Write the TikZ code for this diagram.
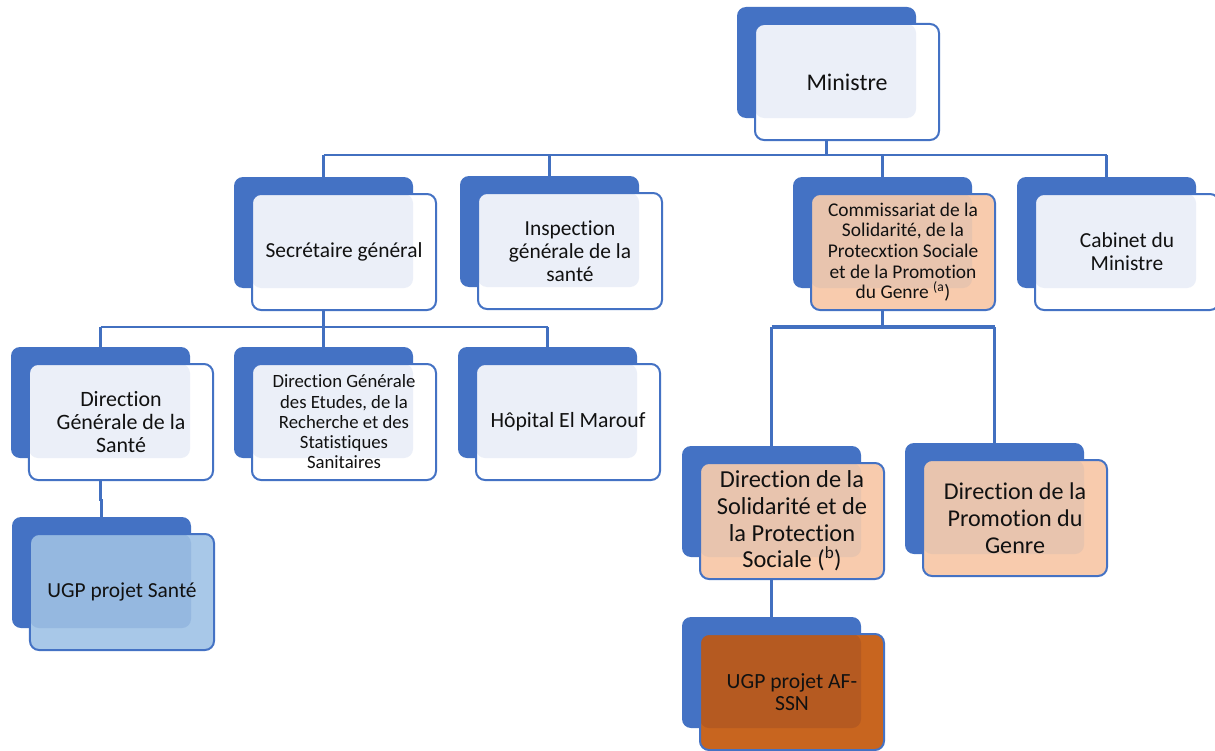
\documentclass[tikz,border=0pt]{standalone}
\usepackage{fontspec}
\setmainfont[Ligatures={NoCommon}]{Carlito}
\definecolor{backc}{HTML}{4472C4}
\definecolor{linec}{HTML}{4270C0}
\definecolor{bordc}{HTML}{4472C4}
\definecolor{wfront}{HTML}{FFFFFF}
\definecolor{wover}{HTML}{EBEFF8}
\definecolor{ofront}{HTML}{F8CBAD}
\definecolor{oover}{HTML}{E8C4AE}
\definecolor{bfront}{HTML}{A8C8E8}
\definecolor{bover}{HTML}{95B8E0}
\definecolor{rfront}{HTML}{C8651F}
\definecolor{rover}{HTML}{B55A21}
\definecolor{txtc}{HTML}{111111}
\tikzset{
  rc/.style={rounded corners=9bp},
  frontbox/.style={draw=bordc, line width=2bp, rounded corners=9bp,
    minimum width=184bp, minimum height=116bp, inner sep=0pt,
    align=center, text=txtc},
  conn/.style={draw=linec, line width=2.7bp},
  connthick/.style={draw=linec, line width=3.5bp}
}
\newcommand\orgbox[7]{%
  \fill[backc,rc] (#2,#3) rectangle ++(179,111);
  \fill[#4front,rc] (#2+18,#3+17) rectangle ++(184,116);
  \fill[#4over,rc] (#2+18,#3+17) rectangle (#2+179,#3+111);
  \node[frontbox,font=\fontsize{#5}{#6}\selectfont] (#1) at (#2+110,#3+75) {#7};
  \coordinate (#1-top) at (#2+89.5,#3);
  \coordinate (#1-bot) at (#2+89.5,#3+133);
}
\begin{document}
\begin{tikzpicture}[x=1bp,y=-1bp]
\useasboundingbox[fill=white] (0,0) rectangle (1215,751);
% boxes
\orgbox{min}{737}{7}{w}{24}{26}{Ministre}
\orgbox{sg}{234}{177}{w}{21.5}{23}{Secrétaire général}
\orgbox{insp}{460}{176}{w}{21.5}{23}{Inspection\\générale de la\\santé}
\orgbox{com}{793}{177}{o}{19.5}{20.7}{Commissariat de la\\Solidarité, de la\\Protecxtion Sociale\\et de la Promotion\\du Genre \textsuperscript{(a})}
\orgbox{cab}{1017}{177}{w}{21.5}{23}{Cabinet du\\Ministre}
\orgbox{dgs}{11}{347}{w}{22}{23.5}{Direction\\Générale de la\\Santé}
\orgbox{dgerss}{234}{347}{w}{18.8}{20.3}{Direction Générale\\des Etudes, de la\\Recherche et des\\Statistiques\\Sanitaires}
\orgbox{hop}{458}{347}{w}{21.8}{23}{Hôpital El Marouf}
\orgbox{ugps}{12}{517}{b}{21.5}{23}{UGP projet Santé}
\orgbox{ds}{682}{446}{o}{24.5}{26.7}{Direction de la\\Solidarité et de\\la Protection\\Sociale (\textsuperscript{b})}
\orgbox{dpg}{905}{443}{o}{24.2}{27}{Direction de la\\Promotion du\\Genre}
\orgbox{afssn}{682}{617}{r}{21.7}{21.7}{UGP projet AF-\\SSN}
% connectors
\coordinate (bus1) at (0,155);
\coordinate (bus2) at (0,327);
\coordinate (bus3) at (0,327);
\draw[conn] (min-bot) -- (min-bot |- bus1);
\draw[conn] (sg-top |- bus1) -- (cab-top |- bus1);
\foreach \n in {sg,insp,com,cab} \draw[conn] (\n-top |- bus1) -- (\n-top);
\draw[conn] (sg-bot) -- (sg-bot |- bus2);
\draw[conn] (dgs-top |- bus2) -- (hop-top |- bus2);
\foreach \n in {dgs,dgerss,hop} \draw[conn] (\n-top |- bus2) -- (\n-top);
\draw[connthick] (com-bot) -- (com-bot |- bus3);
\draw[connthick] (ds-top |- bus3) -- (dpg-top |- bus3);
\foreach \n in {ds,dpg} \draw[connthick] (\n-top |- bus3) -- (\n-top);
\draw[conn] (dgs-bot) -- ++(0,20) -| (ugps-top);
\draw[conn] (ds-bot) -- (afssn-top);
\end{tikzpicture}
\end{document}
